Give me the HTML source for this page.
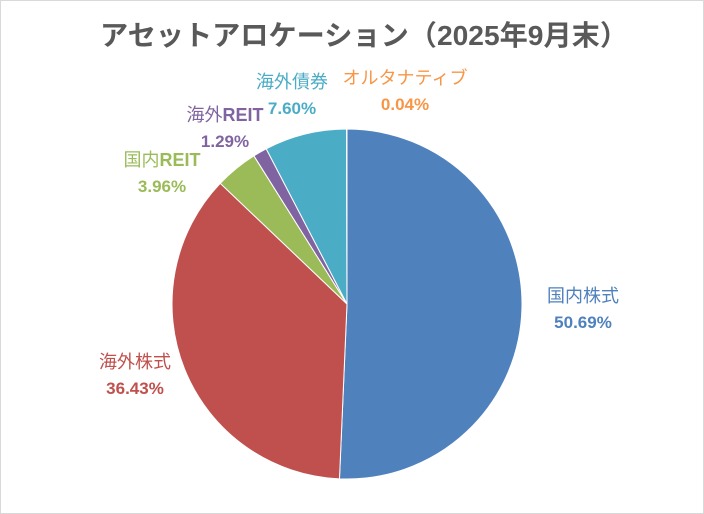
<!DOCTYPE html>
<html><head><meta charset="utf-8"><style>
html,body{margin:0;padding:0;background:#fff;}
svg{display:block;font-family:"Liberation Sans","Noto Sans CJK JP",sans-serif;}
</style></head><body>
<svg width="704" height="514" viewBox="0 0 704 514">
<rect x="0.5" y="0.5" width="703" height="513" fill="#fff" stroke="#d9d9d9"/>
<text x="100" y="45" textLength="528" lengthAdjust="spacingAndGlyphs" font-size="28" font-weight="bold" fill="#595959">アセットアロケーション（2025年9月末）</text>
<g id="pie"></g>
<g id="labels"></g>
</svg>
<script>
const categories = ["国内株式","海外株式","国内REIT","海外REIT","海外債券","オルタナティブ"];
const values = [50.69,36.43,3.96,1.29,7.60,0.04];
const valueLabels = ["50.69%","36.43%","3.96%","1.29%","7.60%","0.04%"];
const colors = ["#4F81BD","#C0504D","#9BBB59","#8064A2","#4BACC6","#F79646"];
const labelPos = [[583,296],[135,362],[162,160],[225,115],[292,82],[405,78]];
const cx=347, cy=304, r=175;
const ns="http://www.w3.org/2000/svg";
const pie=document.getElementById('pie'), lab=document.getElementById('labels');
const total=values.reduce((a,b)=>a+b,0);
let a0=-Math.PI/2;
values.forEach((v,i)=>{
  const a1=a0+v/total*2*Math.PI;
  const x0=cx+r*Math.cos(a0), y0=cy+r*Math.sin(a0), x1=cx+r*Math.cos(a1), y1=cy+r*Math.sin(a1);
  const large=(a1-a0)>Math.PI?1:0;
  const p=document.createElementNS(ns,'path');
  p.setAttribute('d',`M${cx},${cy}L${x0},${y0}A${r},${r} 0 ${large} 1 ${x1},${y1}Z`);
  p.setAttribute('fill',colors[i]);p.setAttribute('stroke','#fff');p.setAttribute('stroke-width','1');
  
  
  pie.appendChild(p);
  a0=a1;
  const [lx,ly]=labelPos[i];
  const t1=document.createElementNS(ns,'text');
  t1.setAttribute('x',lx);t1.setAttribute('y',ly+6);t1.setAttribute('text-anchor','middle');
  t1.setAttribute('font-size','18');t1.setAttribute('fill',colors[i]);
  const name=categories[i];
  const k=name.indexOf('REIT');
  if(k>=0){
    t1.appendChild(document.createTextNode(name.slice(0,k)));
    const ts=document.createElementNS(ns,'tspan');
    ts.setAttribute('font-weight','bold');
    ts.textContent='REIT';
    t1.appendChild(ts);
  } else {
    t1.textContent=name;
  }
  
  
  lab.appendChild(t1);
  const t2=document.createElementNS(ns,'text');
  t2.setAttribute('x',lx);t2.setAttribute('y',ly+32);t2.setAttribute('text-anchor','middle');
  t2.setAttribute('font-size','17');t2.setAttribute('font-weight','bold');t2.setAttribute('fill',colors[i]);t2.textContent=valueLabels[i];
  
  
  lab.appendChild(t2);
});
</script>
</body></html>
